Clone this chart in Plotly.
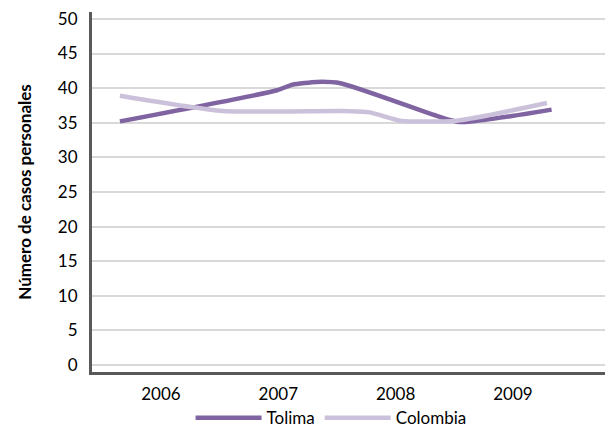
import plotly.graph_objects as go

# Period positions (fractional years)
tolima_x = [2005.65, 2006.99, 2007.12, 2007.33, 2007.53, 2008.35, 2008.55, 2009.33]
tolima_y = [35.2, 39.7, 40.5, 40.9, 40.7, 36.0, 35.1, 36.9]

colombia_x = [2005.65, 2006.53, 2007.53, 2007.78, 2008.04, 2008.52, 2009.29]
colombia_y = [38.9, 36.7, 36.7, 36.5, 35.3, 35.3, 37.85]

year_ticks = [2006, 2007, 2008, 2009]
year_labels = ["2006", "2007", "2008", "2009"]
y_ticks = list(range(0, 51, 5))

FONT = "Lato, 'Open Sans', sans-serif"

fig = go.Figure()
fig.add_trace(go.Scatter(
    x=tolima_x, y=tolima_y, name="Tolima", mode="lines",
    line=dict(color="#8064A2", width=4.5, shape="spline", smoothing=0.6),
))
fig.add_trace(go.Scatter(
    x=colombia_x, y=colombia_y, name="Colombia", mode="lines",
    line=dict(color="#CCC1DA", width=4.5, shape="spline", smoothing=0.6),
))

fig.update_layout(
    width=607, height=429,
    margin=dict(l=92, r=2, t=12, b=57, autoexpand=False),
    paper_bgcolor="white", plot_bgcolor="white",
    font=dict(family=FONT, size=17, color="#000000"),
    showlegend=True,
    legend=dict(orientation="h", x=0.466, xanchor="center", y=-0.078, yanchor="top",
                font=dict(size=17), itemwidth=66, tracegroupgap=0),
    xaxis=dict(
        range=[2005.412, 2009.785], tickmode="array", tickvals=year_ticks,
        ticktext=year_labels, showgrid=False, zeroline=False,
        showline=True, linecolor="#595959", linewidth=3, ticks="",
        ticklabelstandoff=5, automargin=False,
    ),
    yaxis=dict(
        range=[-1, 51], tickmode="array", tickvals=y_ticks,
        showgrid=True, gridcolor="#D9D9D9", gridwidth=1.5, zeroline=False,
        showline=True, linecolor="#595959", linewidth=3, ticks="",
        ticklabelstandoff=8, automargin=False,
        title=dict(text="<b>Número de casos personales</b>", font=dict(size=17), standoff=22),
    ),
)

fig.write_html("out.html", post_script="document.body.style.margin='0px';",
               config={"displayModeBar": False})
